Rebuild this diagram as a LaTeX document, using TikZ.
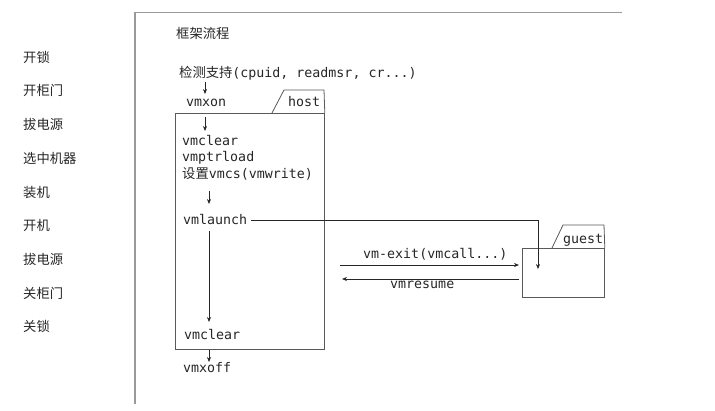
\documentclass[tikz,border=0pt]{standalone}
\usepackage{fontspec}
\setmonofont{DejaVu Sans Mono}
\newfontfamily\cjk{Noto Sans CJK SC}
\usetikzlibrary{arrows.meta}
\begin{document}
\begin{tikzpicture}[x=1pt,y=-1pt,
  cn/.style={font=\cjk\fontsize{13.3}{16}\selectfont, anchor=west, inner sep=0pt, text=black!85},
  tt/.style={font=\ttfamily\fontsize{13.3}{16}\selectfont, anchor=west, inner sep=0pt, text=black!85},
  arr/.style={draw=black!85, line width=0.7pt, -{Stealth[length=5pt,width=4pt]}},
  ln/.style={draw=black!85, line width=0.7pt},
  boxline/.style={draw=black!65, line width=0.8pt},
  frameline/.style={draw=black!40, line width=1.3pt}]
\useasboundingbox (0,0) rectangle (715,410);
% frame
\coordinate (fb) at (135,404);
\coordinate (ft) at (135,12.5);
\coordinate (fr) at (622,12.5);
\draw[frameline] (fb) -- (ft) -- (fr);
% left labels
\node[cn] (l1) at (23,57) {开锁};
\node[cn] (l2) at (23,90.5) {开柜门};
\node[cn] (l3) at (23,124.5) {拔电源};
\node[cn] (l4) at (23,158) {选中机器};
\node[cn] (l5) at (23,192) {装机};
\node[cn] (l6) at (23,225.5) {开机};
\node[cn] (l7) at (23,259) {拔电源};
\node[cn] (l8) at (23,293) {关柜门};
\node[cn] (l9) at (23,326.5) {关锁};
% title
\node[cn] (title) at (176,33) {框架流程};
\node[tt] (det) at (179,73) {{\cjk 检测支持}(cpuid, readmsr, cr...)};
\node[tt] (vmxon) at (186,103) {vmxon};
% host box
\node[boxline, anchor=north west, minimum width=149pt, minimum height=236pt, inner sep=0pt] (host) at (175,113) {};
\coordinate (ht1) at (272,113);
\coordinate (ht2) at (284,90);
\coordinate (ht3) at (324,90);
\draw[boxline] (ht1) -- (ht2) -- (ht3) -- (host.north east);
\node[tt] (hostlbl) at (288,102) {host};
\node[tt] (vmclear1) at (182,141) {vmclear};
\node[tt] (vmptr) at (182,157.5) {vmptrload};
\node[tt] (vmcs) at (182,174) {{\cjk 设置}vmcs(vmwrite)};
\node[tt] (launch) at (183,220) {vmlaunch};
\node[tt] (vmclear2) at (184,335) {vmclear};
\node[tt] (vmxoff) at (183,368) {vmxoff};
% guest box
\node[boxline, anchor=north west, minimum width=82pt, minimum height=49pt, inner sep=0pt] (guest) at (522,248) {};
\coordinate (gt1) at (552,248);
\coordinate (gt2) at (563,225);
\coordinate (gt3) at (604,225);
\draw[boxline] (gt1) -- (gt2) -- (gt3) -- (guest.north east);
\node[tt] (guestlbl) at (563,240) {guest};
% arrows
\coordinate (a1s) at (205,82);
\coordinate (a1e) at (205,94);
\draw[arr] (a1s) -- (a1e);
\coordinate (a2s) at (205,117);
\coordinate (a2e) at (205,131);
\draw[arr] (a2s) -- (a2e);
\coordinate (a3s) at (209,191);
\coordinate (a3e) at (209,204);
\draw[arr] (a3s) -- (a3e);
\coordinate (a4s) at (209,231);
\coordinate (a4e) at (209,322);
\draw[arr] (a4s) -- (a4e);
\coordinate (a5e) at (209,362);
\draw[arr] (host.south -| a5e) -- (a5e);
\coordinate (gin) at (538,269);
\draw[arr] ([xshift=4pt]launch.east) -| (gin);
\coordinate (exs) at (340,265);
\draw[arr] (exs) -- ([xshift=-3pt]guest.west |- exs);
\node[tt] (exlbl) at (363,254) {vm-exit(vmcall...)};
\coordinate (res) at (342,279);
\draw[arr] ([xshift=-3pt]guest.west |- res) -- (res);
\node[tt] (reslbl) at (390,285) {vmresume};
\end{tikzpicture}
\end{document}
